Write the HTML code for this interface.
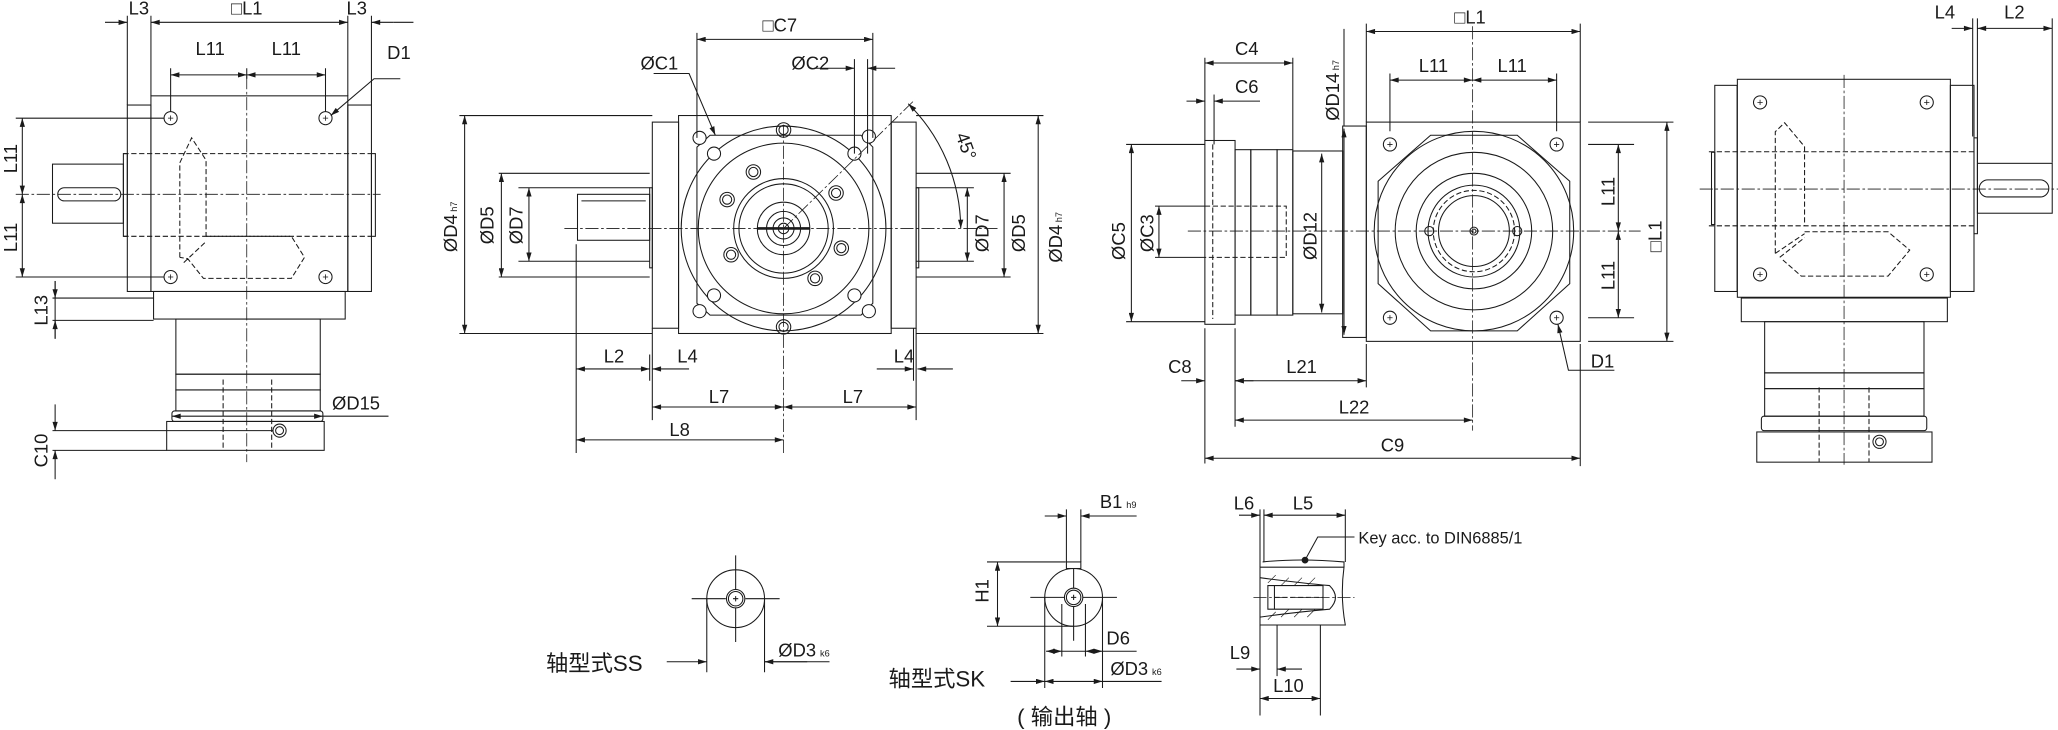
<!DOCTYPE html>
<html><head><meta charset="utf-8"><style>
html,body{margin:0;padding:0;background:#fff}
svg{display:block}
.t{font-family:"Liberation Sans","Noto Sans CJK SC",sans-serif;font-size:14px;fill:#1a1a1a}
.s{font-size:7px}
</style></head><body>
<svg width="2058" height="730" viewBox="0 0 1568 556" preserveAspectRatio="none" xmlns="http://www.w3.org/2000/svg">
<defs>
<marker id="m" viewBox="0 0 10 6" refX="10" refY="3" markerUnits="userSpaceOnUse" markerWidth="12" markerHeight="4" orient="auto-start-reverse"><path d="M0,0L10,3L0,6z" fill="#1a1a1a"/></marker>
</defs>
<style>
.l{stroke:#1a1a1a;fill:none;stroke-width:.8}
.c{stroke-dasharray:10 2 2 2;stroke-width:.6}
.d{stroke-dasharray:4 2}
.a{marker-start:url(#m);marker-end:url(#m)}
.e{marker-end:url(#m)}
.h{fill:#fff}
</style>

<!-- ============ VIEW 1 ============ -->
<g class="l">
<rect x="97" y="80" width="18" height="142"/>
<rect x="265" y="80" width="18" height="142"/>
<rect x="115" y="73" width="150" height="149"/>
<rect x="94" y="117" width="3" height="63"/>
<rect x="283" y="117" width="3" height="63"/>
<rect x="40" y="125" width="54" height="45"/>
<rect x="44" y="143" width="48" height="10" rx="5"/>
<path class="d" d="M94 117H283M94 180H283"/>
<path class="d" d="M137 196V124L146 105L157 122V180M157 180H222L232 196L222 212H155L143 197L137 196M140 200L157 184"/>
<rect x="117" y="222" width="146" height="21"/>
<rect x="134" y="243" width="110" height="42"/>
<rect x="134" y="285" width="110" height="12"/>
<rect x="134" y="297" width="110" height="16"/>
<rect x="131" y="313" width="115" height="8" rx="2"/>
<rect x="127" y="321" width="120" height="22"/>
<path class="d" d="M170 289V343M207 289V343"/>
<circle cx="213" cy="328" r="5"/><circle cx="213" cy="328" r="3"/>
<path class="c" d="M188 58V352M12 148H290"/>
</g>
<g class="l">
<circle cx="130" cy="90" r="5"/><circle cx="248" cy="90" r="5"/><circle cx="130" cy="211" r="5"/><circle cx="248" cy="211" r="5"/>
<path d="M128 90h4M130 88v4M246 90h4M248 88v4M128 211h4M130 209v4M246 211h4M248 209v4" stroke-width=".6"/>
<!-- top dims -->
<path d="M97 12V80M115 12V73M265 12V73M283 12V80M300 17H315"/>
<path class="e" d="M80 17H97"/><path class="a" d="M115 17H265"/><path class="e" d="M300 17H283"/>
<path d="M130 52V85M248 52V85M188 52V60"/>
<path class="a" d="M130 57H188"/><path class="a" d="M188 57H248"/>
<path class="e" d="M305 60H285L252 88"/>
<path d="M12 90H125M12 211H125"/>
<path class="a" d="M17 90V148"/><path class="a" d="M17 148V211"/>
<path d="M40 227H117M40 244H117M42 214V258"/>
<path class="e" d="M42 214V227"/><path class="e" d="M42 258V244"/>
<path class="a" d="M131 317H246"/><path d="M246 317H296"/>
<path d="M40 328H208M40 343H127"/>
<path class="e" d="M42 308V328"/><path class="e" d="M42 365V343"/>
</g>
<text class="t" x="98" y="11">L3</text><text class="t" x="176" y="11">□L1</text><text class="t" x="264" y="11">L3</text>
<text class="t" x="149" y="42">L11</text><text class="t" x="207" y="42">L11</text>
<text class="t" x="295" y="45">D1</text>
<text class="t" transform="translate(13 132) rotate(-90)">L11</text>
<text class="t" transform="translate(13 192) rotate(-90)">L11</text>
<text class="t" transform="translate(36 248) rotate(-90)">L13</text>
<text class="t" x="253" y="312">ØD15</text>
<text class="t" transform="translate(36 356) rotate(-90)">C10</text>

<!-- ============ VIEW 2 ============ -->
<g class="l">
<rect x="497" y="93" width="20" height="157"/>
<rect x="679" y="93" width="19" height="157"/>
<rect x="517" y="88" width="162" height="166"/>
<rect x="495" y="143" width="2" height="61"/>
<rect x="698" y="143" width="2" height="61"/>
<rect x="440" y="148" width="55" height="35"/>
<path d="M443 153H492"/>
<path d="M350 88H497M350 254H497M380 132H495M380 211H495M395 143H495M395 199H495"/>
<path d="M698 88H795M698 254H795M698 132H770M698 211H770M698 143H742M698 199H742"/>
<circle cx="597" cy="174" r="78"/>
<path d="M541 103H656L665 112V231L656 240H541L531 231V112Z"/>
<circle cx="597" cy="174" r="65"/>
<circle cx="597" cy="174" r="38"/>
<circle cx="597" cy="174" r="34"/>
<circle cx="597" cy="174" r="20"/>
<circle cx="597" cy="174" r="13"/>
<circle cx="597" cy="174" r="8"/>
<circle cx="597" cy="174" r="4"/>
<path d="M577 174h40" stroke-width="2"/>
</g>
<g class="l">
<circle cx="574" cy="131" r="5.5"/><circle cx="574" cy="131" r="3.5"/>
<circle cx="554" cy="152" r="5.5"/><circle cx="554" cy="152" r="3.5"/>
<circle cx="557" cy="194" r="5.5"/><circle cx="557" cy="194" r="3.5"/>
<circle cx="621" cy="212" r="5.5"/><circle cx="621" cy="212" r="3.5"/>
<circle cx="641" cy="189" r="5.5"/><circle cx="641" cy="189" r="3.5"/>
<circle cx="637" cy="147" r="5.5"/><circle cx="637" cy="147" r="3.5"/>
<circle cx="597" cy="99" r="5.5"/><circle cx="597" cy="99" r="3.5"/>
<circle cx="597" cy="249" r="5.5"/><circle cx="597" cy="249" r="3.5"/>
<circle class="h" cx="544" cy="117" r="5"/><circle class="h" cx="651" cy="117" r="5"/><circle class="h" cx="544" cy="225" r="5"/><circle class="h" cx="651" cy="225" r="5"/>
<circle class="h" cx="533" cy="105" r="5"/><circle class="h" cx="662" cy="104" r="5"/><circle class="h" cx="533" cy="237" r="5"/><circle class="h" cx="662" cy="237" r="5"/>
<path class="c" d="M597 95V345M430 174H760M597 174L697 76"/>
<!-- top dims -->
<path d="M531 25V105M665 25V105"/>
<path class="a" d="M531 30H665"/>
<path d="M651 45V117M661 45V117"/>
<path class="e" d="M620 52H651"/><path class="e" d="M682 52H661"/>
<path class="e" d="M498 56H525L545 103"/>
<path class="a" d="M692 79A135 135 0 0 1 732 174"/>
<!-- left diameter dims -->
<path class="a" d="M354 88V254"/><path class="a" d="M382 132V211"/><path class="a" d="M403 143V199"/>
<path class="a" d="M737 143V199"/><path class="a" d="M765 132V211"/><path class="a" d="M791 88V254"/>
<!-- bottom dims -->
<path d="M439 186V345M495 270V290M497 250V320M698 250V320M696 250V290"/>
<path class="a" d="M439 281H495"/><path class="e" d="M525 281H497"/>
<path class="e" d="M668 281H696"/><path class="e" d="M726 281H699"/>
<path class="a" d="M497 310H597"/><path class="a" d="M597 310H698"/>
<path class="a" d="M439 335H597"/>
</g>
<text class="t" x="581" y="24">□C7</text>
<text class="t" x="488" y="53">ØC1</text>
<text class="t" x="603" y="53">ØC2</text>
<text class="t" transform="translate(728 103) rotate(70)">45°</text>
<text class="t" transform="translate(348 192) rotate(-90)">ØD4<tspan class="s" dx="2">h7</tspan></text>
<text class="t" transform="translate(376 186) rotate(-90)">ØD5</text>
<text class="t" transform="translate(398 186) rotate(-90)">ØD7</text>
<text class="t" transform="translate(753 192) rotate(-90)">ØD7</text>
<text class="t" transform="translate(781 192) rotate(-90)">ØD5</text>
<text class="t" transform="translate(809 200) rotate(-90)">ØD4<tspan class="s" dx="2">h7</tspan></text>
<text class="t" x="460" y="276">L2</text><text class="t" x="516" y="276">L4</text><text class="t" x="681" y="276">L4</text>
<text class="t" x="540" y="307">L7</text><text class="t" x="642" y="307">L7</text>
<text class="t" x="510" y="332">L8</text>

<!-- ============ VIEW 3 ============ -->
<g class="l">
<rect x="918" y="107" width="23" height="140"/>
<path class="d" d="M924 110V243"/>
<rect x="941" y="114" width="12" height="126"/>
<rect x="953" y="114" width="20" height="126"/>
<rect x="973" y="114" width="12" height="126"/>
<rect x="985" y="115" width="38" height="124"/>
<rect x="1023" y="96" width="18" height="161"/>
<path class="d" d="M918 157H980V196H918"/>
<rect x="1041" y="93" width="163" height="167"/>
<path d="M1090 103H1156L1196 138V216L1156 252H1090L1050 216V138Z"/>
<circle cx="1123" cy="176" r="76"/>
<circle cx="1123" cy="176" r="60"/>
<circle cx="1123" cy="176" r="44"/>
<circle cx="1123" cy="176" r="35"/>
<circle class="d" cx="1123" cy="176" r="31"/>
<circle cx="1123" cy="176" r="27"/>
<circle cx="1123" cy="176" r="3"/><circle cx="1123" cy="176" r="1.5"/>
<circle cx="1089" cy="176" r="3.5"/><circle cx="1156" cy="176" r="3.5"/>
<circle cx="1059" cy="110" r="5"/><circle cx="1186" cy="110" r="5"/><circle cx="1059" cy="242" r="5"/><circle cx="1186" cy="242" r="5"/>
<path d="M1057 110h4M1059 108v4M1184 110h4M1186 108v4M1057 242h4M1059 240v4M1184 242h4M1186 240v4" stroke-width=".6"/>
<path class="c" d="M1122 20V328M905 176H1250"/>
<!-- dims -->
<path d="M1041 18V93M1204 18V93"/><path class="a" d="M1041 24H1204"/>
<path d="M1059 56V100M1186 56V100"/>
<path class="a" d="M1059 61H1122"/><path class="a" d="M1122 61H1186"/>
<path d="M1210 110H1245M1210 242H1245M1210 93H1275M1210 260H1275"/>
<path class="a" d="M1233 110V176"/><path class="a" d="M1233 176V242"/>
<path class="a" d="M1270 93V260"/>
<path class="e" d="M1230 282H1195L1187 247"/>
<path d="M1024 22V96"/><path class="a" d="M1024 98V255"/>
<path d="M918 44V107M985 44V114"/><path class="a" d="M918 48H985"/>
<path d="M925 72V110"/><path class="e" d="M904 77H918"/><path class="e" d="M960 77H925"/>
<path d="M858 110H918M858 245H918M880 157H918M880 196H918"/>
<path class="a" d="M862 110V245"/><path class="a" d="M883 157V196"/>
<path class="a" d="M1007 117V238"/>
<path d="M918 250V353M941 250V325M1041 262V295M1204 262V355"/>
<path class="e" d="M900 290H918"/><path class="e" d="M955 290H941"/>
<path class="a" d="M941 290H1041"/>
<path class="a" d="M941 320H1122"/>
<path class="a" d="M918 349H1204"/>
</g>
<text class="t" x="1108" y="18">□L1</text>
<text class="t" x="1081" y="55">L11</text><text class="t" x="1141" y="55">L11</text>
<text class="t" transform="translate(1230 157) rotate(-90)">L11</text>
<text class="t" transform="translate(1230 221) rotate(-90)">L11</text>
<text class="t" transform="translate(1266 192) rotate(-90)">□L1</text>
<text class="t" x="1212" y="280">D1</text>
<text class="t" transform="translate(1020 92) rotate(-90)">ØD14<tspan class="s" dx="2">h7</tspan></text>
<text class="t" x="941" y="42">C4</text><text class="t" x="941" y="71">C6</text>
<text class="t" transform="translate(857 198) rotate(-90)">ØC5</text>
<text class="t" transform="translate(879 192) rotate(-90)">ØC3</text>
<text class="t" transform="translate(1003 198) rotate(-90)">ØD12</text>
<text class="t" x="890" y="284">C8</text><text class="t" x="980" y="284">L21</text>
<text class="t" x="1020" y="315">L22</text><text class="t" x="1052" y="344">C9</text>

<!-- ============ VIEW 4 ============ -->
<g class="l">
<rect x="1306.5" y="65" width="17" height="157"/>
<rect x="1486" y="65" width="18" height="157"/>
<rect x="1323.7" y="60.4" width="162.3" height="166"/>
<rect x="1304" y="116" width="2.5" height="55"/>
<rect x="1504" y="105" width="2.6" height="73"/>
<rect x="1506.6" y="124.4" width="57" height="38"/>
<rect x="1508" y="137" width="53" height="13" rx="6.5"/>
<path class="d" d="M1302 115.6H1506M1302 172H1506"/>
<path class="d" d="M1352.6 193V100.3L1359.7 93.5L1374.9 111.7V172M1374.9 176.5H1438.5L1455 190.5L1438.5 210.3H1372.4L1358.4 198M1352.6 193L1374.9 178M1356 196L1374.9 181"/>
<circle cx="1341" cy="78" r="5"/><circle cx="1468" cy="78" r="5"/><circle cx="1341" cy="209" r="5"/><circle cx="1468" cy="209" r="5"/>
<path d="M1339 78h4M1341 76v4M1466 78h4M1468 76v4M1339 209h4M1341 207v4M1466 209h4M1468 207v4" stroke-width=".6"/>
<rect x="1326.7" y="227" width="157" height="18"/>
<rect x="1344.5" y="245" width="121.4" height="39"/>
<rect x="1344.5" y="284" width="121.4" height="12"/>
<rect x="1344.5" y="296" width="121.4" height="21"/>
<rect x="1342" y="317" width="126" height="11" rx="2"/>
<rect x="1338.5" y="329" width="133.5" height="23"/>
<path class="d" d="M1386 295V352M1424 295V352"/>
<circle cx="1432" cy="336.5" r="5"/><circle cx="1432" cy="336.5" r="3"/>
<path class="c" d="M1405 57V354M1295 144H1568"/>
<path d="M1503 14V104M1506.6 14V124M1563.6 14V124"/>
<path class="e" d="M1487 21.6H1503"/><path class="a" d="M1506.6 21.6H1563.6"/>
</g>
<text class="t" x="1474" y="14">L4</text><text class="t" x="1527" y="14">L2</text>

<!-- ============ BOTTOM ============ -->
<g class="l">
<circle cx="560.5" cy="456" r="22"/>
<circle cx="560.5" cy="456" r="7"/><circle cx="560.5" cy="456" r="5.5"/>
<path d="M527 456H553M568 456H594M560.5 423V449M560.5 463V489M558.5 456h4M560.5 454v4"/>
<path d="M538.5 456V512M582.5 456V512"/>
<path class="e" d="M508 504H538.5"/><path class="e" d="M615 504H582.5"/><path d="M582.5 504H632"/>

<circle cx="818" cy="455" r="22"/>
<rect x="812.5" y="428" width="11" height="5" class="h"/>
<circle cx="818" cy="455" r="7"/><circle cx="818" cy="455" r="5.5"/>
<path d="M785 455H811M825 455H851M818 433V448M818 462V488M816 455h4M818 453v4"/>
<path d="M752 428H812M752 477H818"/>
<path class="a" d="M760 428V477"/>
<path d="M812.5 388V428M823.5 388V428"/>
<path class="e" d="M796 393H812.5"/><path class="e" d="M840 393H823.5"/><path d="M823.5 393H866"/>
<path d="M809 460V500M827 460V500"/>
<path class="a" d="M797 496H809"/><path class="a" d="M827 496H840"/><path d="M809 496H827M840 496H866"/>
<path d="M796 455V524M840 455V524"/>
<path class="e" d="M770 519H796"/><path class="a" d="M796 519H840"/><path d="M840 519H885"/>

<path d="M960 388V432M963 388V428M1025 388V428"/>
<path class="e" d="M944 392.4H960"/><path class="a" d="M963 392.4H1025"/>
<path d="M962 428Q990 425 1024 428L1024 432"/>
<path d="M960 432H1024Q1021 454 1025 476H960Z"/>
<path d="M960 440Q990 444 1013 446Q1022 455 1013 464Q990 466 960 470"/>
<path d="M966 446H1008V464H966Z"/>
<path d="M971 446V464"/>
<path class="d" d="M971 455H1008"/>
<path d="M966 444l6 -6M976 446l6 -6M986 446l6 -6M996 446l6 -6M966 472l6 -6M976 470l6 -6M986 470l6 -6M996 470l6 -6" stroke-width=".5"/>
<path class="c" d="M955 455H1032"/>
<circle cx="994.3" cy="426.6" r="2.2" fill="#1a1a1a"/>
<path d="M994.3 426.6L1004 409H1032"/>
<path d="M960 476V545M973 476V515M1006 476V545"/>
<path class="e" d="M942 509.6H960"/><path class="e" d="M992 509.6H973"/>
<path class="a" d="M960 532H1006"/>
</g>
<text class="t" x="416" y="511" style="font-size:17px">轴型式SS</text>
<text class="t" x="593" y="500">ØD3<tspan class="s" dx="3">k6</tspan></text>
<text class="t" x="677" y="523" style="font-size:17px">轴型式SK</text>
<text class="t" x="775" y="552" style="font-size:17px">( 输出轴 )</text>
<text class="t" transform="translate(753 459) rotate(-90)">H1</text>
<text class="t" x="838" y="387">B1<tspan class="s" dx="3">h9</tspan></text>
<text class="t" x="843" y="491">D6</text>
<text class="t" x="846" y="514">ØD3<tspan class="s" dx="3">k6</tspan></text>
<text class="t" x="940" y="388">L6</text><text class="t" x="985" y="388">L5</text>
<text class="t" x="1035" y="414" style="font-size:12.5px">Key acc. to DIN6885/1</text>
<text class="t" x="937" y="502">L9</text>
<text class="t" x="970" y="527">L10</text>
</svg>
</body></html>
